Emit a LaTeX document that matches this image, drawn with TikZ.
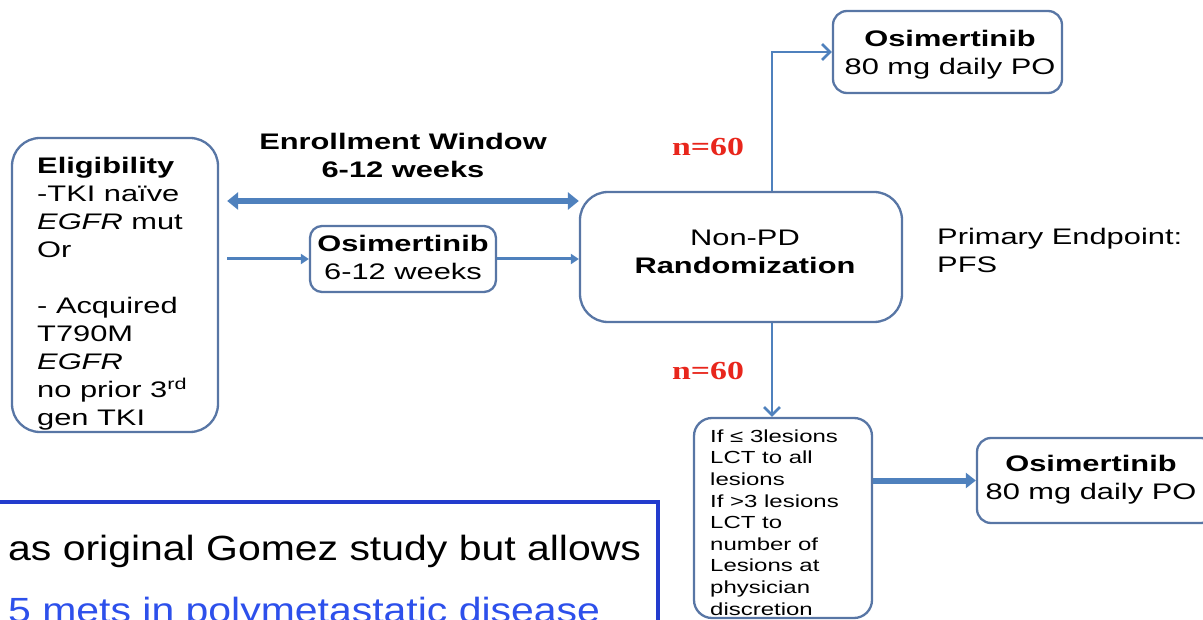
\documentclass[tikz,border=0pt]{standalone}
\usepackage{fontspec}
\setmainfont[FakeStretch=1.37]{Liberation Sans}
\newfontfamily\widefont[FakeStretch=1.17]{Liberation Sans}
\newfontfamily\nfont[FakeStretch=1.3]{Liberation Serif}
\usetikzlibrary{arrows.meta}
\definecolor{boxc}{RGB}{88,118,165}
\definecolor{arrc}{RGB}{79,129,189}
\definecolor{nred}{RGB}{232,38,28}
\definecolor{frameblue}{RGB}{35,60,205}
\definecolor{linkblue}{RGB}{45,80,235}
\begin{document}
\begin{tikzpicture}[x=1pt,y=-1pt,
  box/.style={draw=boxc, line width=2.3pt, fill=white, inner sep=0pt},
  txt/.style={inner sep=0pt, font=\fontsize{22.5}{28}\selectfont},
  small/.style={inner sep=0pt, font=\fontsize{17.5}{21.6}\selectfont},
  nlab/.style={inner sep=0pt, text=nred, font=\nfont\bfseries\fontsize{26}{30}\selectfont},
  thick arrow/.style={draw=arrc, line width=6pt, -{Triangle[length=10pt,width=15pt]}},
  thin arrow/.style={draw=arrc, line width=3pt, -{Triangle[length=8pt,width=10pt]}},
  barb arrow/.style={draw=arrc, line width=2.6pt, -{Straight Barb[length=8pt,width=16pt]}}
]
\useasboundingbox (0,0) rectangle (1203,620);
\clip (0,0) rectangle (1203,620);

% boxes
\node[box, rounded corners=28pt, minimum width=206pt, minimum height=294pt] (elig) at (115,285) {};
\node[box, rounded corners=12pt, minimum width=186pt, minimum height=66pt] (osi1) at (403,259) {};
\node[box, rounded corners=28pt, minimum width=322pt, minimum height=130pt] (rand) at (741,257) {};
\node[box, rounded corners=14pt, minimum width=229pt, minimum height=82pt] (osi2) at (947.5,52) {};
\node[box, rounded corners=18pt, minimum width=178pt, minimum height=200pt] (lct) at (783,518) {};
\node[box, rounded corners=14pt, minimum width=238pt, minimum height=85pt] (osi3) at (1096,480.5) {};
\node[draw=frameblue, line width=4pt, inner sep=0pt, minimum width=668pt, minimum height=150pt] (note) at (324,577) {};

% texts
\node[txt, align=left, anchor=north west] (eligt) at (37,156.5)
  {\textbf{Eligibility}\\-TKI naïve\\\textit{EGFR} mut\\Or\\[28pt]- Acquired\\T790M\\\textit{EGFR}\\no prior 3\textsuperscript{rd}\\gen TKI};
\node[txt, align=center, anchor=north] (enrt) at (403,132.5)
  {\textbf{Enrollment Window}\\\textbf{6-12 weeks}};
\node[txt, align=center, anchor=north] (osi1t) at (403,234.5)
  {\textbf{Osimertinib}\\6-12 weeks};
\node[txt, align=center, anchor=north] (randt) at (745,229.5)
  {Non-PD\\\textbf{Randomization}};
\node[txt, align=center, anchor=north] (osi2t) at (950,29.5)
  {\textbf{Osimertinib}\\80 mg daily PO};
\node[txt, align=center, anchor=north] (osi3t) at (1091,454.5)
  {\textbf{Osimertinib}\\80 mg daily PO};
\node[txt, align=left, anchor=north west] (pept) at (937,227.5)
  {Primary Endpoint:\\PFS};
\node[small, align=left, anchor=north west] (lctt) at (710,429.5)
  {If ≤ 3lesions\\LCT to all\\lesions\\If >3 lesions\\LCT to\\number of\\Lesions at\\physician\\discretion};
\node[nlab] (n1) at (708,147) {n=60};
\node[nlab] (n2) at (708,371) {n=60};
\node[inner sep=0pt, anchor=base west, font=\widefont\fontsize{35}{40}\selectfont] (gomez) at (8,560)
  {as original Gomez study but allows};
\node[inner sep=0pt, anchor=base west, text=linkblue, font=\widefont\fontsize{35}{40}\selectfont] (mets) at (8,622)
  {5 mets in polymetastatic disease};

% connectors
\coordinate (ew) at (0,201);
\draw[draw=arrc, line width=6pt, {Triangle[length=11pt,width=17pt]}-{Triangle[length=11pt,width=17pt]}]
  ([xshift=8pt]elig.east |- ew) -- (rand.west |- ew);
\draw[thin arrow] ([xshift=8pt]elig.east |- osi1.west) -- (osi1.west);
\draw[thin arrow] (osi1.east) -- (osi1.east -| rand.west);
\draw[barb arrow] ([xshift=31pt]rand.north) |- (osi2.west);
\draw[barb arrow] ([xshift=31pt]rand.south) -- ([xshift=31pt]rand.south |- lct.north);
\draw[thick arrow] (lct.east |- osi3.west) -- (osi3.west);
\end{tikzpicture}
\end{document}
